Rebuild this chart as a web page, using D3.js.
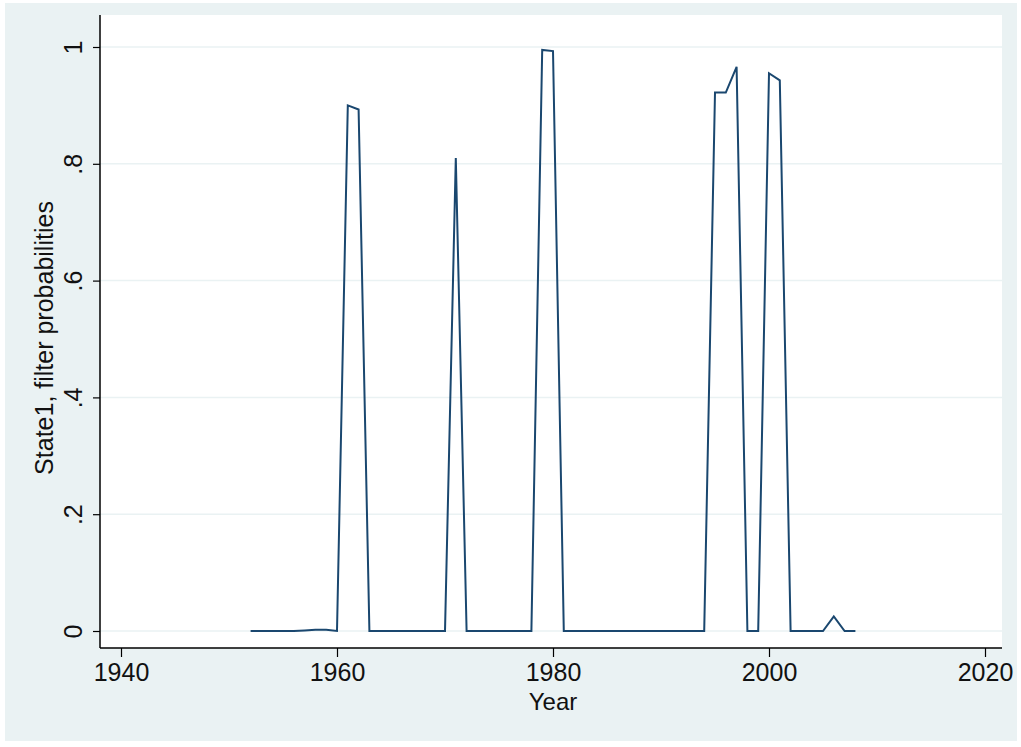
<!DOCTYPE html>
<html><head><meta charset="utf-8">
<script src="https://cdn.jsdelivr.net/npm/d3@7"></script>
<style>body{margin:0;background:#fff}svg{display:block}</style>
</head><body>
<script>
const years = [1952,1953,1954,1955,1956,1957,1958,1959,1960,1961,1962,1963,1964,1965,1966,1967,1968,1969,1970,1971,1972,1973,1974,1975,1976,1977,1978,1979,1980,1981,1982,1983,1984,1985,1986,1987,1988,1989,1990,1991,1992,1993,1994,1995,1996,1997,1998,1999,2000,2001,2002,2003,2004,2005,2006,2007,2008];
const probs = [0,0,0,0,0,0.001,0.002,0.002,0,0.900,0.893,0,0,0,0,0,0,0,0,0.810,0,0,0,0,0,0,0,0.995,0.993,0,0,0,0,0,0,0,0,0,0,0,0,0,0,0.922,0.922,0.966,0,0,0.955,0.943,0,0,0,0,0.025,0,0];
const xTicks = [1940,1960,1980,2000,2020];
const yTicks = [0,0.2,0.4,0.6,0.8,1];
const yTickLabels = ["0",".2",".4",".6",".8","1"];

const W=1021,H=747;
const svg=d3.select("body").append("svg").attr("width",W).attr("height",H);
svg.append("rect").attr("x",5).attr("y",3).attr("width",1012).attr("height",738).attr("fill","#eaf2f3");
const L=100,R=1002,T=15,B=648;
svg.append("rect").attr("x",L).attr("y",T).attr("width",R-L).attr("height",B-T).attr("fill","#fff");

const x=d3.scaleLinear().domain([1940,2020]).range([121,985]);
const y=d3.scaleLinear().domain([0,1]).range([631,47]);

// gridlines
svg.append("g").selectAll("line").data(yTicks).join("line")
  .attr("x1",L).attr("x2",R).attr("y1",d=>y(d)).attr("y2",d=>y(d))
  .attr("stroke","#eaf2f3").attr("stroke-width",1.5);

const font="'Liberation Sans', Arial, sans-serif";
const xAxis=svg.append("g").attr("transform",`translate(0,${B})`)
  .call(d3.axisBottom(x).tickValues(xTicks).tickFormat(d3.format("d")).tickSize(9).tickSizeOuter(0));
xAxis.select(".domain").attr("d",`M${L},0H${R}`).attr("stroke","#000").attr("stroke-width",1.5);
xAxis.selectAll(".tick line").attr("stroke","#000").attr("stroke-width",1.2);
xAxis.selectAll(".tick text").attr("font-family",font).attr("font-size",25).attr("fill","#111")
  .attr("dy",null).attr("y",33);

const yAxis=svg.append("g").attr("transform",`translate(${L},0)`)
  .call(d3.axisLeft(y).tickValues(yTicks).tickFormat((d,i)=>yTickLabels[i]).tickSize(7).tickSizeOuter(0));
yAxis.select(".domain").attr("d",`M0,${T}V${B}`).attr("stroke","#000").attr("stroke-width",1.5);
yAxis.selectAll(".tick line").attr("stroke","#000").attr("stroke-width",1.2);
yAxis.selectAll(".tick text").attr("font-family",font).attr("font-size",25).attr("fill","#111")
  .attr("x",null).attr("dy",null).attr("text-anchor","middle")
  .attr("transform","translate(-18,0) rotate(-90)");

svg.append("text").attr("x",553).attr("y",710).attr("text-anchor","middle")
  .attr("font-family",font).attr("font-size",24).attr("fill","#111").text("Year");
svg.append("text").attr("transform","translate(53,338) rotate(-90)").attr("text-anchor","middle")
  .attr("font-family",font).attr("font-size",25).attr("fill","#111").text("State1, filter probabilities");

const line=d3.line().x((d,i)=>x(years[i])).y(d=>y(d));
svg.append("path").datum(probs).attr("d",line).attr("fill","none")
  .attr("stroke","#1a476f").attr("stroke-width",2).attr("stroke-linejoin","miter");
</script>
</body></html>
